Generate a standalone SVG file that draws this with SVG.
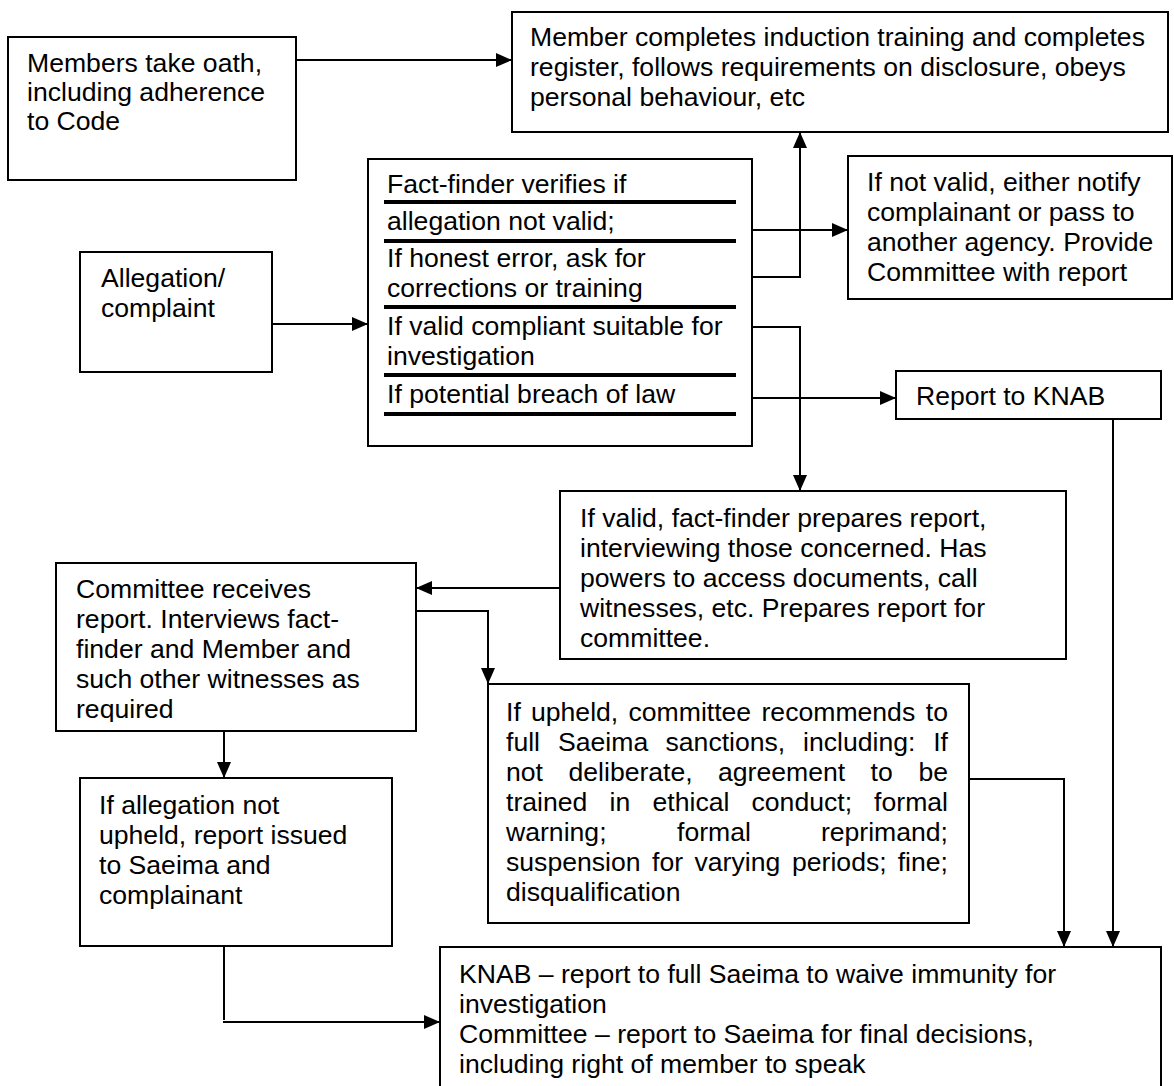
<svg xmlns="http://www.w3.org/2000/svg" width="1174" height="1086" viewBox="0 0 1174 1086">
<style>
.box{fill:#fff;stroke:#000;stroke-width:2}
.t{font-family:"Liberation Sans",Arial,sans-serif;font-size:26.6px;fill:#000}
.c{fill:none;stroke:#000;stroke-width:2}
.sep{stroke:#000;stroke-width:4}
</style>
<defs>
<marker id="ah" markerUnits="userSpaceOnUse" markerWidth="16" markerHeight="14" refX="16" refY="7" orient="auto">
<path d="M0,0 L16,7 L0,14 Z" fill="#000"/>
</marker>
<clipPath id="clipE"><rect x="56" y="563" width="360" height="159"/></clipPath>
</defs>
<rect width="1174" height="1086" fill="#fff"/>

<g id="oath">
<rect class="box" x="8" y="37" width="288" height="143"/>
<text class="t"><tspan x="27" y="72">Members take oath,</tspan><tspan x="27" y="101">including adherence</tspan><tspan x="27" y="130">to Code</tspan></text>
</g>

<g id="induction">
<rect class="box" x="512" y="12" width="656" height="120"/>
<text class="t"><tspan x="530" y="46">Member completes induction training and completes</tspan><tspan x="530" y="76">register, follows requirements on disclosure, obeys</tspan><tspan x="530" y="106">personal behaviour, etc</tspan></text>
</g>

<g id="notvalid">
<rect class="box" x="848" y="156" width="324" height="143"/>
<text class="t"><tspan x="867" y="191">If not valid, either notify</tspan><tspan x="867" y="221">complainant or pass to</tspan><tspan x="867" y="251">another agency. Provide</tspan><tspan x="867" y="281">Committee with report</tspan></text>
</g>

<g id="allegation">
<rect class="box" x="80" y="252" width="192" height="120"/>
<text class="t"><tspan x="101" y="287">Allegation/</tspan><tspan x="101" y="317">complaint</tspan></text>
</g>

<g id="factfinder">
<rect class="box" x="368" y="159" width="384" height="287"/>
<line class="sep" x1="384" y1="202" x2="736" y2="202"/>
<line class="sep" x1="384" y1="241" x2="736" y2="241"/>
<line class="sep" x1="384" y1="307" x2="736" y2="307"/>
<line class="sep" x1="384" y1="375" x2="736" y2="375"/>
<line class="sep" x1="384" y1="414" x2="736" y2="414"/>
<text class="t"><tspan x="387" y="193">Fact-finder verifies if</tspan><tspan x="387" y="230">allegation not valid;</tspan><tspan x="387" y="267">If honest error, ask for</tspan><tspan x="387" y="297">corrections or training</tspan><tspan x="387" y="335">If valid compliant suitable for</tspan><tspan x="387" y="365">investigation</tspan><tspan x="387" y="403">If potential breach of law</tspan></text>
</g>

<g id="knab">
<rect class="box" x="896" y="371" width="265" height="48"/>
<text class="t" x="916" y="405">Report to KNAB</text>
</g>

<g id="factreport">
<rect class="box" x="560" y="491" width="506" height="168"/>
<text class="t"><tspan x="580" y="527">If valid, fact-finder prepares report,</tspan><tspan x="580" y="557">interviewing those concerned. Has</tspan><tspan x="580" y="587">powers to access documents, call</tspan><tspan x="580" y="617">witnesses, etc. Prepares report for</tspan><tspan x="580" y="647">committee.</tspan></text>
</g>

<g id="committee">
<rect class="box" x="56" y="563" width="360" height="168"/>
<text class="t" clip-path="url(#clipE)"><tspan x="76" y="598">Committee receives</tspan><tspan x="76" y="628">report. Interviews fact-</tspan><tspan x="76" y="658">finder and Member and</tspan><tspan x="76" y="688">such other witnesses as</tspan><tspan x="76" y="718">required</tspan></text>
</g>

<g id="upheld">
<rect class="box" x="488" y="684" width="481" height="239"/>
<text class="t"><tspan x="506" y="721">If</tspan><tspan x="531" y="721">upheld,</tspan><tspan x="628.5" y="721">committee</tspan><tspan x="761.5" y="721">recommends</tspan><tspan x="948" y="721" text-anchor="end">to</tspan></text>
<text class="t"><tspan x="506" y="751">full</tspan><tspan x="558" y="751">Saeima</tspan><tspan x="665.5" y="751">sanctions,</tspan><tspan x="803" y="751">including:</tspan><tspan x="948" y="751" text-anchor="end">If</tspan></text>
<text class="t"><tspan x="506" y="781">not</tspan><tspan x="568.5" y="781">deliberate,</tspan><tspan x="718" y="781">agreement</tspan><tspan x="870.5" y="781">to</tspan><tspan x="948" y="781" text-anchor="end">be</tspan></text>
<text class="t"><tspan x="506" y="811">trained</tspan><tspan x="609.5" y="811">in</tspan><tspan x="652.5" y="811">ethical</tspan><tspan x="751.5" y="811">conduct;</tspan><tspan x="948" y="811" text-anchor="end">formal</tspan></text>
<text class="t"><tspan x="506" y="841">warning;</tspan><tspan x="677" y="841">formal</tspan><tspan x="948" y="841" text-anchor="end">reprimand;</tspan></text>
<text class="t"><tspan x="506" y="871">suspension</tspan><tspan x="652" y="871">for</tspan><tspan x="694.5" y="871">varying</tspan><tspan x="792" y="871">periods;</tspan><tspan x="948" y="871" text-anchor="end">fine;</tspan></text>
<text class="t" x="506" y="901">disqualification</text>
</g>

<g id="notupheld">
<rect class="box" x="80" y="778" width="312" height="168"/>
<text class="t"><tspan x="99" y="814">If allegation not</tspan><tspan x="99" y="844">upheld, report issued</tspan><tspan x="99" y="874">to Saeima and</tspan><tspan x="99" y="904">complainant</tspan></text>
</g>

<g id="final">
<rect class="box" x="440" y="947" width="721" height="150"/>
<text class="t"><tspan x="459" y="983">KNAB – report to full Saeima to waive immunity for</tspan><tspan x="459" y="1013">investigation</tspan><tspan x="459" y="1043">Committee – report to Saeima for final decisions,</tspan><tspan x="459" y="1073">including right of member to speak</tspan></text>
</g>

<g id="connectors">
<path class="c" d="M296,60 H512" marker-end="url(#ah)"/>
<path class="c" d="M272,324 H368" marker-end="url(#ah)"/>
<path class="c" d="M752,230 H848" marker-end="url(#ah)"/>
<path class="c" d="M752,277 H800 V132" marker-end="url(#ah)"/>
<path class="c" d="M752,327 H800 V491" marker-end="url(#ah)"/>
<path class="c" d="M752,398 H896" marker-end="url(#ah)"/>
<path class="c" d="M1113,419 V947" marker-end="url(#ah)"/>
<path class="c" d="M560,588 H416" marker-end="url(#ah)"/>
<path class="c" d="M416,611 H488 V684" marker-end="url(#ah)"/>
<path class="c" d="M224,731 V778" marker-end="url(#ah)"/>
<path class="c" d="M969,779 H1064 V947" marker-end="url(#ah)"/>
<path class="c" d="M224,946 V1020"/>
<path class="c" d="M223,1022 H440" marker-end="url(#ah)"/>
</g>
</svg>
